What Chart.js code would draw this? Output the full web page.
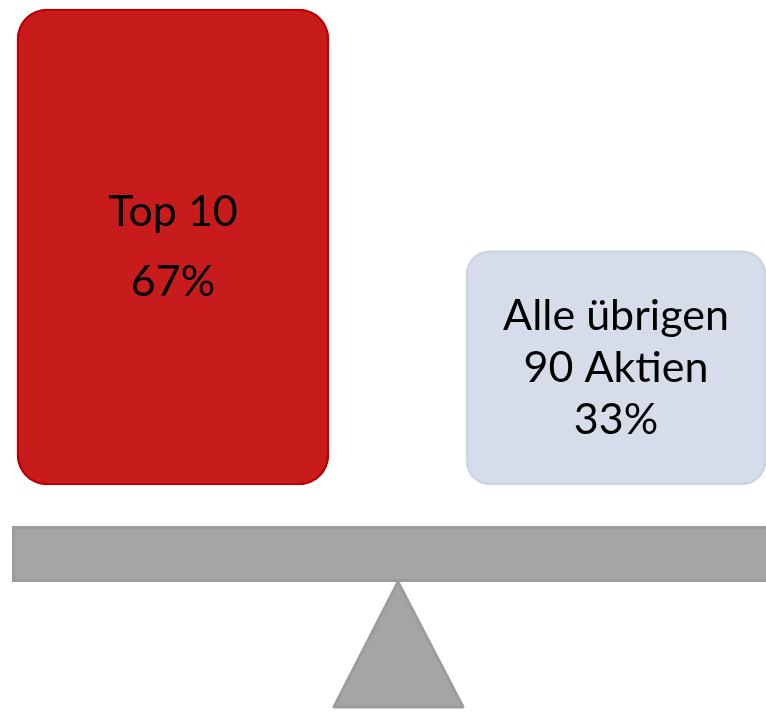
<!DOCTYPE html>
<html><head><meta charset="utf-8">
<script src="https://cdn.jsdelivr.net/npm/chart.js@4/dist/chart.umd.min.js"></script>
<style>html,body{margin:0;padding:0;background:#fff;}#wrap{width:766px;height:712px;position:relative;}</style>
</head><body><div id="wrap"><canvas id="c"></canvas></div>
<script>
const categories = ['Top 10', 'Alle übrigen 90 Aktien'];
const shares = [67, 33];
const labelLines = [['Top 10', '67%'], ['Alle übrigen', '90 Aktien', '33%']];

const FONT = '43px Lato, "Open Sans", sans-serif';

const seesaw = {
  id: 'seesaw',
  afterDatasetsDraw(chart) {
    const ctx = chart.ctx;
    ctx.save();
    // beam
    ctx.fillStyle = '#A5A5A5';
    ctx.strokeStyle = '#9C9C9C';
    ctx.lineWidth = 3;
    ctx.beginPath();
    ctx.rect(13.5, 527.5, 760, 53);
    ctx.fill(); ctx.stroke();
    // fulcrum
    ctx.beginPath();
    ctx.moveTo(398, 582);
    ctx.lineTo(463, 707);
    ctx.lineTo(334, 707);
    ctx.closePath();
    ctx.lineJoin = 'round';
    ctx.fill(); ctx.stroke();
    // labels
    ctx.fillStyle = '#000';
    ctx.font = FONT;
    ctx.textAlign = 'center';
    ctx.textBaseline = 'middle';
    chart.data.datasets.forEach((ds, di) => {
      const meta = chart.getDatasetMeta(di);
      meta.data.forEach((el, i) => {
        if (ds.data[i] == null) return;
        const lines = labelLines[i];
        const cy = (el.y + el.base) / 2;
        const gap = lines.length === 2 ? 70 : 52;
        const start = cy - gap * (lines.length - 1) / 2;
        lines.forEach((t, k) => ctx.fillText(t, el.x, start + k * gap));
      });
    });
    ctx.restore();
  }
};

new Chart(document.getElementById('c'), {
  type: 'bar',
  data: {
    labels: categories,
    datasets: [
      { data: [shares[0], null], backgroundColor: '#C81B1B', borderColor: '#C00000', borderWidth: 2.5,
        borderRadius: 30, borderSkipped: false, barThickness: 312, clip: false, grouped: false },
      { data: [null, shares[1]], backgroundColor: '#D6DCE9', borderColor: '#CCD4E5', borderWidth: 2.5,
        borderRadius: 24, borderSkipped: false, barThickness: 300, clip: false, grouped: false }
    ]
  },
  options: {
    responsive: true, maintainAspectRatio: false, animation: false,
    layout: { padding: { left: 173, right: 150, top: 9, bottom: 227 } },
    plugins: { legend: { display: false }, tooltip: { enabled: false } },
    scales: {
      x: { display: false, offset: false },
      y: { display: false, min: 0, max: 67 }
    }
  },
  plugins: [seesaw]
});
</script></body></html>
